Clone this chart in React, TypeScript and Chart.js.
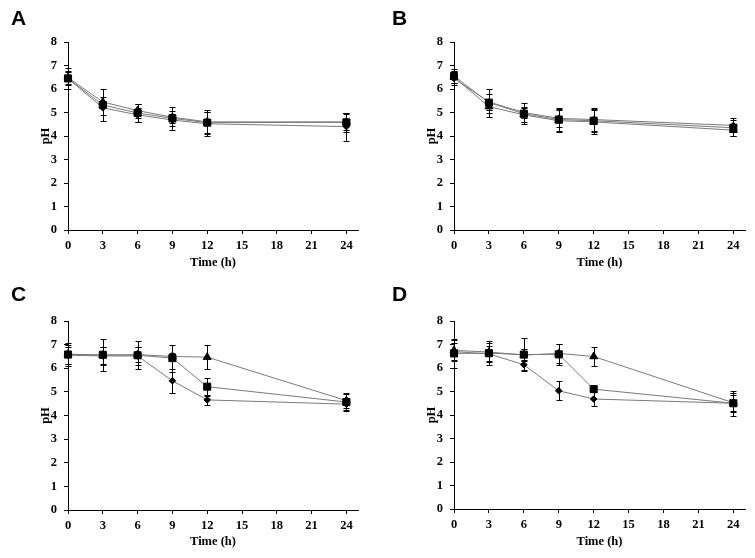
import React, { useEffect, useRef } from "react";
import { Chart, registerables } from "chart.js";

Chart.register(...registerables);

// ---------- data ----------
const times = [0, 3, 6, 9, 12, 24];
const xTickValues = [0, 3, 6, 9, 12, 15, 18, 21, 24];
const yTickValues = [0, 1, 2, 3, 4, 5, 6, 7, 8];

// Panel A
const aDiamond = [6.45, 5.2, 4.9, 4.68, 4.52, 4.4];
const aDiamondSd = [0.3, 0.3, 0.3, 0.25, 0.5, 0.6];
const aSquare = [6.45, 5.32, 4.98, 4.75, 4.57, 4.58];
const aSquareSd = [0.45, 0.68, 0.4, 0.5, 0.45, 0.4];
const aTriangle = [6.48, 5.45, 5.08, 4.8, 4.6, 4.6];
const aTriangleSd = [0.25, 0.2, 0.3, 0.25, 0.5, 0.35];

// Panel B
const bDiamond = [6.45, 5.45, 5.0, 4.75, 4.7, 4.45];
const bDiamondSd = [0.3, 0.35, 0.25, 0.35, 0.5, 0.3];
const bSquare = [6.55, 5.42, 4.95, 4.7, 4.65, 4.35];
const bSquareSd = [0.3, 0.6, 0.45, 0.5, 0.5, 0.35];
const bTriangle = [6.5, 5.25, 4.9, 4.65, 4.6, 4.25];
const bTriangleSd = [0.25, 0.25, 0.3, 0.5, 0.5, 0.25];

// Panel C
const cDiamond = [6.55, 6.52, 6.52, 5.47, 4.66, 4.48];
const cDiamondSd = [0.35, 0.4, 0.4, 0.5, 0.22, 0.25];
const cSquare = [6.58, 6.57, 6.55, 6.43, 5.22, 4.57];
const cSquareSd = [0.5, 0.68, 0.6, 0.57, 0.38, 0.4];
const cTriangle = [6.6, 6.55, 6.58, 6.5, 6.47, 4.63];
const cTriangleSd = [0.4, 0.35, 0.3, 0.15, 0.5, 0.3];

// Panel D
const dDiamond = [6.7, 6.6, 6.14, 5.03, 4.68, 4.5];
const dDiamondSd = [0.35, 0.35, 0.22, 0.4, 0.3, 0.35];
const dSquare = [6.62, 6.63, 6.57, 6.58, 5.1, 4.5];
const dSquareSd = [0.6, 0.5, 0.7, 0.45, 0.0, 0.53];
const dTriangle = [6.75, 6.68, 6.55, 6.62, 6.49, 4.52];
const dTriangleSd = [0.45, 0.4, 0.25, 0.4, 0.39, 0.4];

type Series = { values: number[]; sd: number[] };
type PanelDef = {
  letter: string;
  x: number;
  y: number;
  w: number;
  h: number;
  area: { left: number; right: number; top: number; bottom: number };
  letterPos: { left: number; top: number };
  diamond: Series;
  square: Series;
  triangle: Series;
};

const panels: PanelDef[] = [
  {
    letter: "A", x: 0, y: 0, w: 377, h: 279,
    area: { left: 68, right: 358, top: 42, bottom: 230 },
    letterPos: { left: 11, top: 7 },
    diamond: { values: aDiamond, sd: aDiamondSd },
    square: { values: aSquare, sd: aSquareSd },
    triangle: { values: aTriangle, sd: aTriangleSd },
  },
  {
    letter: "B", x: 377, y: 0, w: 378, h: 279,
    area: { left: 77, right: 368, top: 42, bottom: 230 },
    letterPos: { left: 392, top: 7 },
    diamond: { values: bDiamond, sd: bDiamondSd },
    square: { values: bSquare, sd: bSquareSd },
    triangle: { values: bTriangle, sd: bTriangleSd },
  },
  {
    letter: "C", x: 0, y: 279, w: 377, h: 279,
    area: { left: 68, right: 358, top: 42, bottom: 231 },
    letterPos: { left: 11, top: 283 },
    diamond: { values: cDiamond, sd: cDiamondSd },
    square: { values: cSquare, sd: cSquareSd },
    triangle: { values: cTriangle, sd: cTriangleSd },
  },
  {
    letter: "D", x: 377, y: 279, w: 378, h: 279,
    area: { left: 77, right: 368, top: 42, bottom: 230 },
    letterPos: { left: 392, top: 283 },
    diamond: { values: dDiamond, sd: dDiamondSd },
    square: { values: dSquare, sd: dSquareSd },
    triangle: { values: dTriangle, sd: dTriangleSd },
  },
];

const errorBarPlugin = {
  id: "errorBars",
  beforeDatasetsDraw(chart: any) {
    const ctx = chart.ctx;
    const yScale = chart.scales.y;
    ctx.save();
    ctx.strokeStyle = "#000";
    ctx.lineWidth = 1;
    chart.data.datasets.forEach((ds: any, i: number) => {
      const meta = chart.getDatasetMeta(i);
      const errs: number[] = ds.errors || [];
      meta.data.forEach((pt: any, j: number) => {
        const e = errs[j];
        if (!e) return;
        const v = ds.data[j].y;
        const x = Math.round(pt.x) + 0.5;
        const yTop = Math.round(yScale.getPixelForValue(v + e)) + 0.5;
        const yBot = Math.round(yScale.getPixelForValue(v - e)) + 0.5;
        ctx.beginPath();
        ctx.moveTo(x, yTop);
        ctx.lineTo(x, yBot);
        ctx.moveTo(x - 3, yTop);
        ctx.lineTo(x + 3, yTop);
        ctx.moveTo(x - 3, yBot);
        ctx.lineTo(x + 3, yBot);
        ctx.stroke();
      });
    });
    ctx.restore();
  },
};

const serif = "'Liberation Serif', 'Times New Roman', serif";
const fontSize = 12.5;

function Panel({ def }: { def: PanelDef }) {
  const ref = useRef<HTMLCanvasElement | null>(null);
  useEffect(() => {
    if (!ref.current) return;
    const mk = (s: Series, style: string, radius: number, order: number) => ({
      data: times.map((t, i) => ({ x: t, y: s.values[i] })),
      errors: s.sd,
      borderColor: "#7a7a7a",
      borderWidth: 1,
      pointStyle: style,
      pointRadius: radius,
      pointBackgroundColor: "#000",
      pointBorderColor: "#000",
      pointBorderWidth: 1,
      tension: 0,
      clip: false as any,
      order,
    });
    const chart = new Chart(ref.current, {
      type: "line",
      data: {
        datasets: [
          mk(def.diamond, "rectRot", 3.3, 2),
          mk(def.triangle, "triangle", 4.5, 1),
          mk(def.square, "rect", 5, 0),
        ] as any,
      },
      options: {
        animation: false,
        responsive: false,
        layout: {
          padding: {
            left: 0,
            top: def.area.top,
            right: def.w - def.area.right,
            bottom: 0,
          },
        },
        plugins: { legend: { display: false }, tooltip: { enabled: false } },
        scales: {
          x: {
            type: "linear",
            min: 0,
            max: 25,
            afterBuildTicks: (scale: any) => {
              scale.ticks = xTickValues.map((v) => ({ value: v }));
            },
            afterFit: (scale: any) => {
              scale.height = def.h - def.area.bottom;
            },
            ticks: {
              autoSkip: false,
              maxRotation: 0,
              padding: 4,
              color: "#000",
              font: { family: serif, weight: "bold", size: fontSize },
            },
            grid: {
              display: true,
              drawOnChartArea: false,
              drawTicks: true,
              tickLength: 4,
              color: "#000",
            },
            border: { display: true, color: "#000", width: 1 },
            title: {
              display: true,
              text: "Time (h)",
              color: "#000",
              font: { family: serif, weight: "bold", size: fontSize },
              padding: { top: 0, bottom: 9 },
            },
          },
          y: {
            type: "linear",
            min: 0,
            max: 8,
            afterBuildTicks: (scale: any) => {
              scale.ticks = yTickValues.map((v) => ({ value: v }));
            },
            afterFit: (scale: any) => {
              scale.width = def.area.left;
            },
            ticks: {
              padding: 7,
              color: "#000",
              font: { family: serif, weight: "bold", size: fontSize },
            },
            grid: {
              display: true,
              drawOnChartArea: false,
              drawTicks: true,
              tickLength: 4,
              color: "#000",
            },
            border: { display: true, color: "#000", width: 1 },
            title: {
              display: true,
              text: "pH",
              color: "#000",
              font: { family: serif, weight: "bold", size: fontSize },
              padding: { top: def.area.left - 30, bottom: 0 },
            },
          },
        },
      } as any,
      plugins: [errorBarPlugin],
    });
    return () => chart.destroy();
  }, [def]);
  return (
    <>
      <canvas
        ref={ref}
        width={def.w}
        height={def.h}
        style={{ position: "absolute", left: def.x, top: def.y, display: "block" }}
      />
      <div
        style={{
          position: "absolute",
          left: def.letterPos.left,
          top: def.letterPos.top,
          fontFamily: "'Liberation Sans', Arial, sans-serif",
          fontWeight: "bold",
          fontSize: 21,
          lineHeight: "21px",
          color: "#000",
        }}
      >
        {def.letter}
      </div>
    </>
  );
}

export default function App() {
  return (
    <div
      style={{
        position: "absolute",
        left: 0,
        top: 0,
        width: 755,
        height: 558,
        background: "#fff",
        overflow: "hidden",
      }}
    >
      {panels.map((p) => (
        <Panel key={p.letter} def={p} />
      ))}
    </div>
  );
}
